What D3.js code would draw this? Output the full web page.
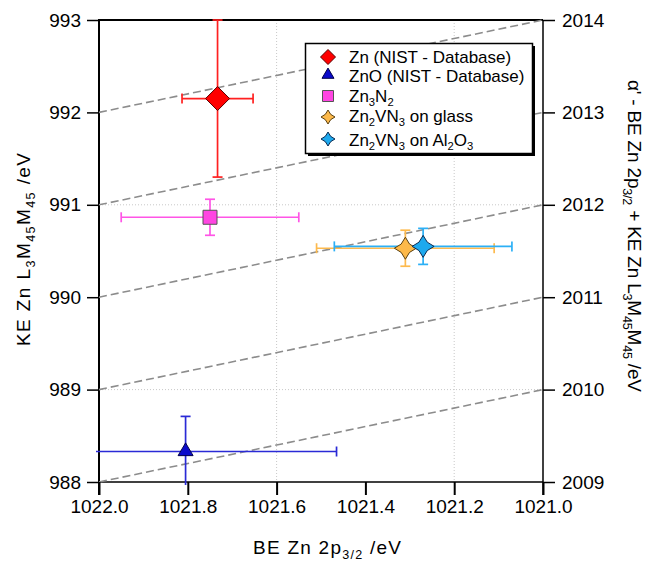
<!DOCTYPE html>
<html><head><meta charset="utf-8">
<script src="https://cdn.jsdelivr.net/npm/d3@7"></script>
<style>
html,body{margin:0;padding:0;background:#fff;}
text{font-family:"Liberation Sans",Arial,sans-serif;fill:#000;}
</style></head>
<body><svg id="c" width="645" height="562"></svg>
<script>
// ---- data ----
const seriesNames = ["Zn (NIST - Database)", "ZnO (NIST - Database)", "Zn_{3}N_{2}", "Zn_{2}VN_{3} on glass", "Zn_{2}VN_{3} on Al_{2}O_{3}"];
const beValues = [1021.733, 1021.805, 1021.75, 1021.31, 1021.27];
const keValues = [992.15, 988.33, 990.865, 990.53, 990.55];
const beErrors = [0.08, 0.34, 0.2, 0.2, 0.2];
const keErrors = [0.85, 0.38, 0.195, 0.195, 0.195];
const augerParams = [2010, 2011, 2012, 2013, 2014];
const xTicks = [1022.0, 1021.8, 1021.6, 1021.4, 1021.2, 1021.0];
const yTicks = [988, 989, 990, 991, 992, 993];
const y2Ticks = [2009, 2010, 2011, 2012, 2013, 2014];
const xGrid = [1021.6, 1021.2];
const yGrid = [989, 991];

// ---- styles ----
const markerShapes = ["diamond", "triangle", "square", "star", "star"];
const fills = ["#FF0000", "#0A0ACB", "#FF45E2", "#FDB94A", "#1EA9EE"];
const strokes = ["#5a0000", "#00004a", "#555555", "#5a4010", "#0a2a50"];
const errColors = ["#FF2020", "#2A2AD6", "#FF55E6", "#FDBA4E", "#2CB0F6"];

const svg = d3.select("#c");
const L = 99, R = 543, T = 20, B = 482;
const x = d3.scaleLinear().domain([1022, 1021]).range([L, R]);
const y = d3.scaleLinear().domain([988, 993]).range([B, T]);
const y2 = d3.scaleLinear().domain([2009, 2014]).range([B, T]);

function shapePath(shape, s) {
  if (shape === "diamond") return `M0,${-s}L${s},0L0,${s}L${-s},0Z`;
  if (shape === "triangle") return `M0,${-s*1.15}L${s},${s*0.55}L${-s},${s*0.55}Z`;
  if (shape === "square") return `M${-s},${-s}H${s}V${s}H${-s}Z`;
  if (shape === "star") { const i = s*0.38; return `M0,${-s}L${i},${-i}L${s},0L${i},${i}L0,${s}L${-i},${i}L${-s},0L${-i},${-i}Z`; }
}
const plotSize = [12, 7.5, 7, 11, 11];
const legSize = [7.5, 6, 5.5, 7, 7];

function richText(sel, str, fs) {
  const parts = str.split(/(_\{[^}]*\})/).filter(p => p.length);
  let sub = false;
  parts.forEach(p => {
    if (p.startsWith("_{")) {
      sel.append("tspan").attr("font-size", fs*0.66).attr("dy", fs*0.25).text(p.slice(2, -1));
      sub = true;
    } else {
      sel.append("tspan").attr("font-size", fs).attr("dy", sub ? -fs*0.25 : 0).text(p);
      sub = false;
    }
  });
}

svg.append("defs").append("clipPath").attr("id", "clip")
  .append("rect").attr("x", L - 3).attr("y", T - 2).attr("width", R - L + 3).attr("height", B - T + 5);

// grid
const g = svg.append("g");
g.selectAll(".gx").data(xGrid).join("line")
  .attr("x1", d => x(d)).attr("x2", d => x(d)).attr("y1", T).attr("y2", B)
  .attr("stroke", "#c8c8c8").attr("stroke-width", 1).attr("stroke-dasharray", "1,2");
g.selectAll(".gy").data(yGrid).join("line")
  .attr("y1", d => y(d)).attr("y2", d => y(d)).attr("x1", L).attr("x2", R)
  .attr("stroke", "#c8c8c8").attr("stroke-width", 1).attr("stroke-dasharray", "1,2");

// axes frame
const ax = svg.append("g").attr("stroke", "#000").attr("fill", "none");
ax.append("line").attr("x1", L).attr("x2", R).attr("y1", T).attr("y2", T).attr("stroke-width", 2);
ax.append("line").attr("x1", L).attr("x2", L).attr("y1", T - 1).attr("y2", B + 13).attr("stroke-width", 2);
ax.append("line").attr("x1", R).attr("x2", R).attr("y1", T).attr("y2", B + 13).attr("stroke-width", 1.5);
ax.append("line").attr("x1", L).attr("x2", R).attr("y1", B).attr("y2", B).attr("stroke-width", 1.5);

// auger parameter lines
const cg = svg.append("g").attr("clip-path", "url(#clip)");
cg.selectAll(".aug").data(augerParams).join("line")
  .attr("x1", x(1022)).attr("y1", d => y(d - 1022))
  .attr("x2", x(1021)).attr("y2", d => y(d - 1021))
  .attr("stroke", "#8c8c8c").attr("stroke-width", 1.6).attr("stroke-dasharray", "8,4");

// error bars
const idx = d3.range(seriesNames.length);
const cap = 5;
idx.forEach(i => {
  const eg = cg.append("g").attr("stroke", errColors[i]).attr("stroke-width", 1.7).attr("fill", "none");
  const cx = x(beValues[i]), cy = y(keValues[i]);
  const xl = x(beValues[i] + beErrors[i]), xr = x(beValues[i] - beErrors[i]);
  const yt = y(keValues[i] + keErrors[i]), yb = y(keValues[i] - keErrors[i]);
  eg.append("line").attr("x1", xl).attr("x2", xr).attr("y1", cy).attr("y2", cy);
  eg.append("line").attr("x1", cx).attr("x2", cx).attr("y1", yt).attr("y2", yb);
  eg.append("line").attr("x1", xl).attr("x2", xl).attr("y1", cy - cap).attr("y2", cy + cap);
  eg.append("line").attr("x1", xr).attr("x2", xr).attr("y1", cy - cap).attr("y2", cy + cap);
  eg.append("line").attr("x1", cx - cap).attr("x2", cx + cap).attr("y1", yt).attr("y2", yt);
  eg.append("line").attr("x1", cx - cap).attr("x2", cx + cap).attr("y1", yb).attr("y2", yb);
});
// markers
svg.append("g").selectAll("path").data(idx).join("path")
  .attr("transform", i => `translate(${x(beValues[i])},${y(keValues[i])})`)
  .attr("d", i => shapePath(markerShapes[i], plotSize[i]))
  .attr("fill", i => fills[i]).attr("stroke", i => strokes[i]).attr("stroke-width", 1);

const fsTick = 19;
// bottom axis
const bx = svg.append("g").attr("transform", `translate(0,${B})`)
  .call(d3.axisBottom(x).tickValues(xTicks).tickFormat(d3.format(".1f")).tickSize(13).tickPadding(5));
// left axis
const lx = svg.append("g").attr("transform", `translate(${L},0)`)
  .call(d3.axisLeft(y).tickValues(yTicks).tickFormat(d3.format("d")).tickSize(12).tickPadding(6));
// right axis
const rx = svg.append("g").attr("transform", `translate(${R},0)`)
  .call(d3.axisRight(y2).tickValues(y2Ticks).tickFormat(d3.format("d")).tickSize(12).tickPadding(7));
[bx, lx, rx].forEach(a => {
  a.select(".domain").remove();
  a.selectAll(".tick line").attr("stroke", "#000").attr("stroke-width", 1.5);
  a.selectAll(".tick text").attr("font-size", fsTick).attr("font-family", "Liberation Sans, Arial, sans-serif").attr("fill", "#000");
});
bx.selectAll(".tick line").attr("stroke-width", 2);

// axis titles
const xt = svg.append("text").attr("x", 253).attr("y", 554).attr("text-anchor", "start")
  .attr("textLength", 148).attr("lengthAdjust", "spacing");
richText(xt, "BE Zn 2p_{3/2} /eV", 19);

const lt = svg.append("text").attr("transform", "translate(30,346) rotate(-90)").attr("text-anchor", "start")
  .attr("textLength", 193).attr("lengthAdjust", "spacing");
richText(lt, "KE Zn L_{3}M_{45}M_{45} /eV", 19);

const rt = svg.append("text").attr("transform", "translate(628,80) rotate(90)").attr("text-anchor", "start")
  .attr("textLength", 312).attr("lengthAdjust", "spacing");
richText(rt, "α' - BE Zn 2p_{3/2} + KE Zn L_{3}M_{45}M_{45} /eV", 19);

// legend
const lg = svg.append("g");
lg.append("rect").attr("x", 308).attr("y", 46).attr("width", 227).attr("height", 110).attr("fill", "#000");
lg.append("rect").attr("x", 305.5).attr("y", 43.5).attr("width", 227).attr("height", 110)
  .attr("fill", "#fff").attr("stroke", "#000").attr("stroke-width", 1.5);
const rowMarkY = [57, 75, 96, 117, 139];
const rowTextY = [63, 82, 102, 122, 146];
idx.forEach(i => {
  lg.append("path").attr("transform", `translate(328,${rowMarkY[i]})`)
    .attr("d", shapePath(markerShapes[i], legSize[i]))
    .attr("fill", fills[i]).attr("stroke", strokes[i]).attr("stroke-width", 1);
  const t = lg.append("text").attr("x", 349).attr("y", rowTextY[i]);
  richText(t, seriesNames[i], 17);
});
</script></body></html>
